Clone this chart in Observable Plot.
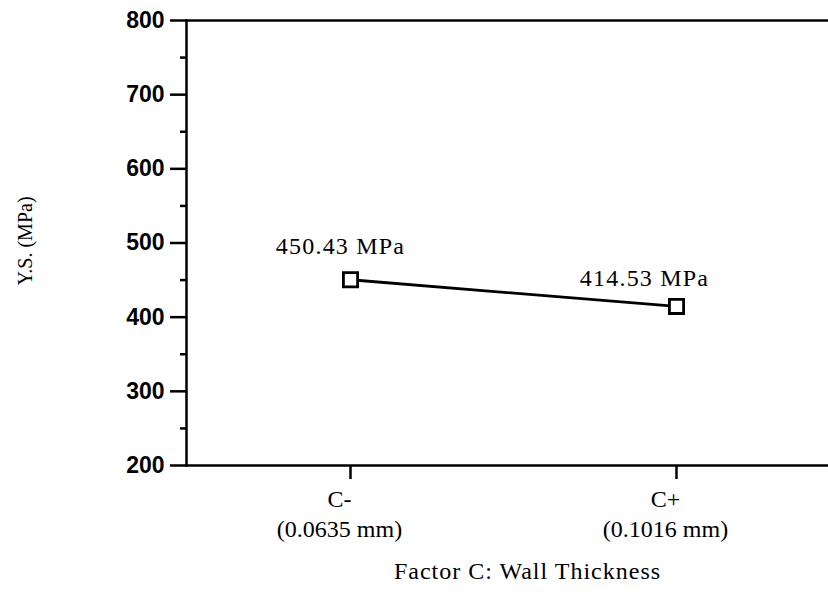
<!DOCTYPE html>
<html>
<head>
<meta charset="utf-8">
<script src="https://cdn.jsdelivr.net/npm/d3@7"></script>
<script src="https://cdn.jsdelivr.net/npm/@observablehq/plot@0.6"></script>
<style>
  body { margin: 0; background: #fff; }
  .ls-annot { letter-spacing: 1.2px; }
  .ls-xtitle { letter-spacing: 1px; }
</style>
</head>
<body>
<div id="chart"></div>
<script>
const levels = ["C-", "C+"];
const levelNotes = ["(0.0635 mm)", "(0.1016 mm)"];
const ysValues = [450.43, 414.53];
const yMajorTicks = [200, 300, 400, 500, 600, 700, 800];
const yMinorTicks = [250, 350, 450, 550, 650, 750];
const yTitle = "Y.S. (MPa)";
const xTitle = "Factor C: Wall Thickness";

const data = levels.map((c, i) => ({level: c, note: levelNotes[i], ys: ysValues[i]}));
const noteOf = Object.fromEntries(data.map(d => [d.level, d.note]));

const serif = "'Liberation Serif', 'Times New Roman', serif";
const sans = "'Liberation Sans', Arial, sans-serif";

const chart = Plot.plot({
  width: 828,
  height: 600,
  marginLeft: 186,
  marginRight: 0,
  marginTop: 20,
  marginBottom: 135,
  style: {background: "#fff", color: "#000"},
  x: {type: "point", domain: levels, range: [350, 676], padding: 0},
  y: {domain: [200, 800]},
  marks: [
    Plot.axisY({ticks: yMinorTicks, tickSize: 6, tickFormat: () => "", strokeWidth: 2.5, label: null}),
    Plot.axisY({ticks: yMajorTicks, tickSize: 16, tickPadding: 6, strokeWidth: 2.5, label: null,
      fontSize: 23, fontWeight: "bold", fontFamily: sans}),
    Plot.axisX({tickSize: 14, tickFormat: () => "", strokeWidth: 2.5, label: null}),
    Plot.axisX({tickSize: 0, tickPadding: 20, dx: -11, label: null,
      tickFormat: d => d + "\n" + noteOf[d], fontSize: 24, fontFamily: serif, lineHeight: 1.25}),
    Plot.ruleY([200, 800], {strokeWidth: 2.5}),
    Plot.frame({anchor: "left", strokeWidth: 2.5}),
    Plot.line(data, {x: "level", y: "ys", strokeWidth: 2.8}),
    Plot.dot(data, {x: "level", y: "ys", symbol: "square", r: 8, fill: "white", stroke: "black", strokeWidth: 2.8}),
    Plot.text(data.filter((d, i) => i === 0), {x: "level", y: "ys", text: d => `${d.ys.toFixed(2)} MPa`,
      dy: -33, dx: -10, fontSize: 24, fontFamily: serif, ariaDescription: "annot"}),
    Plot.text(data.filter((d, i) => i === 1), {x: "level", y: "ys", text: d => `${d.ys.toFixed(2)} MPa`,
      dy: -28, dx: -32, fontSize: 24, fontFamily: serif, ariaDescription: "annot"}),
    Plot.text([yTitle], {frameAnchor: "left", textAnchor: "middle", dx: -161, dy: -2, rotate: -90,
      fontSize: 20, fontFamily: serif}),
    Plot.text([xTitle], {frameAnchor: "bottom", dx: 20, dy: 113, fontSize: 24, fontFamily: serif, ariaDescription: "xtitle"})
  ]
});
d3.select(chart).selectAll('g[aria-description="annot"] text').classed("ls-annot", true);
d3.select(chart).selectAll('g[aria-description="xtitle"] text').classed("ls-xtitle", true);
document.getElementById("chart").appendChild(chart);
</script>
</body>
</html>
